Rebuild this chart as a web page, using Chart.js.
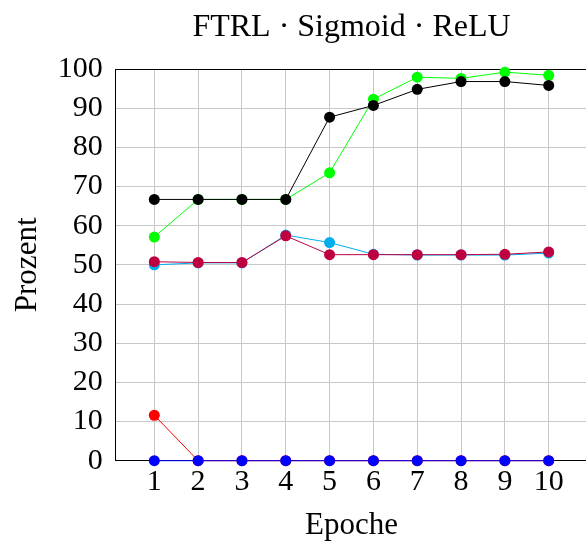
<!DOCTYPE html>
<html>
<head>
<meta charset="utf-8">
<script src="https://cdn.jsdelivr.net/npm/chart.js@4/dist/chart.umd.min.js"></script>
<style>
  html, body { margin: 0; padding: 0; background: #fff; overflow: hidden; }
  #wrap { width: 600px; height: 542px; }
</style>
</head>
<body>
<div id="wrap"><canvas id="chart" width="600" height="542"></canvas></div>
<script>
const epochs = [1, 2, 3, 4, 5, 6, 7, 8, 9, 10];
const yTicks = [0, 10, 20, 30, 40, 50, 60, 70, 80, 90, 100];

const greenSeries  = [57.1, 66.7, 66.7, 66.7, 73.5, 92.3, 97.9, 97.6, 99.2, 98.4];
const blackSeries  = [66.7, 66.7, 66.7, 66.7, 87.7, 90.7, 94.8, 96.8, 96.8, 95.8];
const cyanSeries   = [50.0, 50.5, 50.5, 57.6, 55.7, 52.7, 52.5, 52.5, 52.5, 53.0];
const purpleSeries = [50.8, 50.6, 50.6, 57.4, 52.6, 52.6, 52.6, 52.6, 52.7, 53.3];
const redSeries    = [11.6, 0, 0, 0, 0, 0, 0, 0, 0, 0];
const blueSeries   = [0, 0, 0, 0, 0, 0, 0, 0, 0, 0];

const FONT = "'Liberation Serif', 'Times New Roman', serif";

const toPoints = (vals) => vals.map((v, i) => ({ x: epochs[i], y: v }));

const makeSet = (label, vals, color, order) => ({
  label: label,
  data: toPoints(vals),
  borderColor: color,
  backgroundColor: color,
  borderWidth: 1,
  pointRadius: 5.5,
  pointBorderWidth: 0,
  pointBackgroundColor: color,
  tension: 0,
  clip: false,
  order: order,
});

new Chart(document.getElementById('chart'), {
  type: 'line',
  data: {
    datasets: [
      makeSet('Reihe 1', greenSeries, '#00ff00', 6),
      makeSet('Reihe 2', blackSeries, '#000000', 5),
      makeSet('Reihe 3', cyanSeries, '#00aeef', 4),
      makeSet('Reihe 4', purpleSeries, '#bf0040', 3),
      makeSet('Reihe 5', redSeries, '#ff0000', 2),
      makeSet('Reihe 6', blueSeries, '#0000ff', 1),
    ]
  },
  options: {
    responsive: false,
    devicePixelRatio: 1,
    animation: false,
    layout: { padding: { left: 0, top: 0, right: 12.3, bottom: 0 } },
    plugins: {
      legend: { display: false },
      tooltip: { enabled: false },
    },
    scales: {
      x: {
        type: 'linear',
        min: 0.11,
        max: 10.89,
        afterBuildTicks: (s) => { s.ticks = epochs.map(v => ({ value: v })); },
        afterFit: (s) => { s.height = 81.3; },
        ticks: {
          color: '#000',
          padding: 3,
          font: { family: FONT, size: 30 },
          callback: (v) => String(v),
        },
        grid: { color: '#c8c8c8', lineWidth: 1, drawTicks: false },
        border: { color: '#000', width: 1 },
        title: {
          display: true,
          text: 'Epoche',
          color: '#000',
          font: { family: FONT, size: 31 },
          padding: { top: 0, bottom: -2 },
        },
      },
      // top axis: carries the frame line and the title centred over the plot
      x2: {
        type: 'linear',
        position: 'top',
        min: 0.11,
        max: 10.89,
        afterFit: (s) => { s.height = 69; },
        ticks: { display: false },
        grid: { display: false, drawTicks: false },
        border: { color: '#000', width: 1 },
        title: {
          display: true,
          text: 'FTRL · Sigmoid · ReLU',
          color: '#000',
          font: { family: FONT, size: 32 },
          padding: { top: 8, bottom: 0 },
        },
      },
      y: {
        min: 0,
        max: 100,
        afterBuildTicks: (s) => { s.ticks = yTicks.map(v => ({ value: v })); },
        afterFit: (s) => { s.width = 115.3; },
        ticks: {
          color: '#000',
          padding: 12.6,
          font: { family: FONT, size: 30 },
        },
        grid: { color: '#c8c8c8', lineWidth: 1, drawTicks: false },
        border: { color: '#000', width: 1 },
        title: {
          display: true,
          text: 'Prozent',
          color: '#000',
          font: { family: FONT, size: 31 },
          padding: { top: 9, bottom: 0 },
        },
      },
    },
  },
});
</script>
</body>
</html>
